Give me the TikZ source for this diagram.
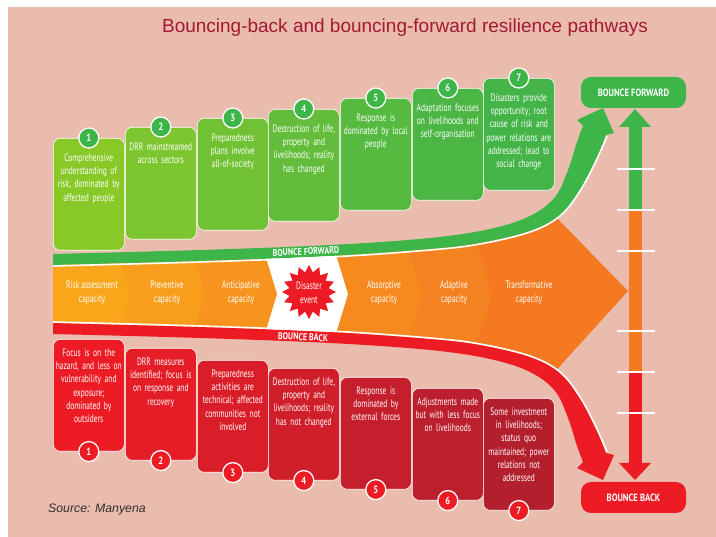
\documentclass[tikz,border=0pt]{standalone}
\usepackage{fontspec}
\setmainfont{Liberation Sans}
\newfontfamily\cond[FakeStretch=0.69]{PT Sans}
\newfontfamily\condb[FakeStretch=0.82]{PT Sans}
\usetikzlibrary{shapes.geometric}
\definecolor{bg}{HTML}{E9BCAE}
\definecolor{titlered}{HTML}{A3192F}
\definecolor{g1}{HTML}{88C928}
\definecolor{g2}{HTML}{7EC62F}
\definecolor{g3}{HTML}{71C135}
\definecolor{g4}{HTML}{63BD3B}
\definecolor{g5}{HTML}{56B940}
\definecolor{g6}{HTML}{4CB644}
\definecolor{g7}{HTML}{44B448}
\definecolor{cg}{HTML}{3DB549}
\definecolor{r1}{HTML}{ED1C24}
\definecolor{r2}{HTML}{E41D27}
\definecolor{r3}{HTML}{DA1E29}
\definecolor{r4}{HTML}{D01F2B}
\definecolor{r5}{HTML}{C51F2D}
\definecolor{r6}{HTML}{BC1F2E}
\definecolor{r7}{HTML}{B41F2E}
\definecolor{cr}{HTML}{ED1C24}
\definecolor{o1}{HTML}{F9A61A}
\definecolor{o2}{HTML}{F89E1C}
\definecolor{o3}{HTML}{F7941D}
\definecolor{o5}{HTML}{F68A1F}
\definecolor{o6}{HTML}{F58220}
\definecolor{o7}{HTML}{F47920}
\definecolor{srcgray}{HTML}{2E2E2E}
\def\swoosh{plot[smooth, tension=0.6] coordinates {(53,254) (200,250) (330,245) (430,238) (490,229) (530,216) (555,197) (568,170) (577,142) (583,126)} -- (577,120) -- (603,108) -- (614,133) -- plot[smooth, tension=0.6] coordinates {(606,135) (596,160) (580,190) (560,215) (530,231) (480,243) (430,249) (330,256) (200,261) (53,265)} -- cycle}
\def\swooshedge{plot[smooth, tension=0.6] coordinates {(53,266) (200,262) (330,257) (430,250) (480,244) (530,232) (560,216) (580,191) (596,161) (607,136)}}
\begin{document}
\begin{tikzpicture}[x=1pt,y=-1pt,
  box/.style={rounded corners=7pt, minimum width=71pt, minimum height=112pt, anchor=north west, inner sep=0pt, draw=white, line width=0.6pt},
  txt/.style={text=white, font=\cond\fontsize{10.8}{13.3}\selectfont, align=center, text width=70pt, inner sep=0pt, anchor=north},
  num/.style={circle, draw=white, line width=1.3pt, minimum size=20pt, inner sep=0pt, text=white, font=\condb\bfseries\fontsize{10.5}{10.5}\selectfont},
  bandtxt/.style={text=white, font=\cond\fontsize{10.8}{14}\selectfont, align=center, inner sep=0pt},
  swtxt/.style={text=white, font=\condb\bfseries\fontsize{9.8}{10}\selectfont, inner sep=0pt},
  endbox/.style={rounded corners=10pt, minimum width=105pt, minimum height=31pt, inner sep=0pt, text=white, font=\condb\bfseries\fontsize{10.5}{11}\selectfont}]
\useasboundingbox (0,0) rectangle (716,537);
\fill[white] (0,0) rectangle (716,537);
\fill[bg] (8,7) rectangle (716,537);
\node[text=titlered, font=\fontsize{19}{22}\selectfont] (title) at (405,28) {Bouncing-back and bouncing-forward resilience pathways};
% green boxes
\node[box, fill=g1] (gb1) at (53,138) {};
\node[box, fill=g2] (gb2) at (125,127) {};
\node[box, fill=g3] (gb3) at (197,118) {};
\node[box, fill=g4] (gb4) at (268,109) {};
\node[box, fill=g5] (gb5) at (340,98) {};
\node[box, fill=g6] (gb6) at (412,88) {};
\node[box, fill=g7] (gb7) at (483,78) {};
\node[txt] (gt1) at ([yshift=-15.5pt]gb1.north) {Comprehensive\\understanding of\\risk; dominated by\\affected people};
\node[txt] (gt2) at ([yshift=-15.5pt]gb2.north) {DRR mainstreamed\\across sectors};
\node[txt] (gt3) at ([yshift=-15.5pt]gb3.north) {Preparedness\\plans involve\\all-of-society};
\node[txt] (gt4) at ([yshift=-15.5pt]gb4.north) {Destruction of life,\\property and\\livelihoods; reality\\has changed};
\node[txt] (gt5) at ([yshift=-15.5pt]gb5.north) {Response is\\dominated by local\\people};
\node[txt] (gt6) at ([yshift=-15.5pt]gb6.north) {Adaptation focuses\\on livelihoods and\\self-organisation};
\node[txt] (gt7) at ([yshift=-15.5pt]gb7.north) {Disasters provide\\opportunity; root\\cause of risk and\\power relations are\\addressed; lead to\\social change};
\node[num, fill=cg] (gc1) at (gb1.north) {1};
\node[num, fill=cg] (gc2) at (gb2.north) {2};
\node[num, fill=cg] (gc3) at (gb3.north) {3};
\node[num, fill=cg] (gc4) at (gb4.north) {4};
\node[num, fill=cg] (gc5) at (gb5.north) {5};
\node[num, fill=cg] (gc6) at (gb6.north) {6};
\node[num, fill=cg] (gc7) at (gb7.north) {7};
% red boxes
\node[box, fill=r1] (rb1) at (53,339) {};
\node[box, fill=r2] (rb2) at (125,348) {};
\node[box, fill=r3] (rb3) at (197,360) {};
\node[box, fill=r4] (rb4) at (268,368) {};
\node[box, fill=r5] (rb5) at (340,377) {};
\node[box, fill=r6] (rb6) at (412,388) {};
\node[box, fill=r7] (rb7) at (483,398) {};
\node[txt] (rt1) at ([yshift=-9.5pt]rb1.north) {Focus is on the\\hazard, and less on\\vulnerability and\\exposure;\\dominated by\\outsiders};
\node[txt] (rt2) at ([yshift=-9.5pt]rb2.north) {DRR measures\\identified; focus is\\on response and\\recovery};
\node[txt] (rt3) at ([yshift=-9.5pt]rb3.north) {Preparedness\\activities are\\technical; affected\\communities not\\involved};
\node[txt] (rt4) at ([yshift=-9.5pt]rb4.north) {Destruction of life,\\property and\\livelihoods; reality\\has not changed};
\node[txt] (rt5) at ([yshift=-9.5pt]rb5.north) {Response is\\dominated by\\external forces};
\node[txt] (rt6) at ([yshift=-9.5pt]rb6.north) {Adjustments made\\but with less focus\\on livelihoods};
\node[txt] (rt7) at ([yshift=-9.5pt]rb7.north) {Some investment\\in livelihoods;\\status quo\\maintained; power\\relations not\\addressed};
\node[num, fill=cr] (rc1) at (rb1.south) {1};
\node[num, fill=cr] (rc2) at (rb2.south) {2};
\node[num, fill=cr] (rc3) at (rb3.south) {3};
\node[num, fill=cr] (rc4) at (rb4.south) {4};
\node[num, fill=cr] (rc5) at (rb5.south) {5};
\node[num, fill=cr] (rc6) at (rb6.south) {6};
\node[num, fill=cr] (rc7) at (rb7.south) {7};
% orange band
\begin{scope}
\clip (53,259.5) -- (330,250.5) -- (430,243.5) -- (490,235) -- (530,223) -- (550,211) -- (628,291) -- (550,377) -- (530,365) -- (490,353) -- (430,344.5) -- (330,337.5) -- (53,328.5) -- cycle;
\fill[o7] (0,150) rectangle (700,450);
\fill[o6] (0,150) -- (448,150) -- (492,294) -- (448,438) -- (0,438) -- cycle;
\fill[o5] (0,150) -- (378,150) -- (422,294) -- (378,438) -- (0,438) -- cycle;
\fill[white] (0,150) -- (304,150) -- (348,294) -- (304,438) -- (0,438) -- cycle;
\fill[o3] (0,150) -- (233,150) -- (277,294) -- (233,438) -- (0,438) -- cycle;
\fill[o2] (0,150) -- (161,150) -- (205,294) -- (161,438) -- (0,438) -- cycle;
\fill[o1] (0,150) -- (86,150) -- (130,294) -- (86,438) -- (0,438) -- cycle;
\end{scope}
\node[bandtxt] (c1) at (92,293) {Risk assessment\\capacity};
\node[bandtxt] (c2) at (167,293) {Preventive\\capacity};
\node[bandtxt] (c3) at (241,293) {Anticipative\\capacity};
\node[star, star points=16, star point ratio=1.35, minimum size=54pt, fill=cr, inner sep=0pt] (star) at (309,292) {};
\node[bandtxt] (dis) at (309,293) {Disaster\\event};
\node[bandtxt] (c5) at (384,293) {Absorptive\\capacity};
\node[bandtxt] (c6) at (454,293) {Adaptive\\capacity};
\node[bandtxt] (c7) at (529,293) {Transformative\\capacity};
% swooshes
\fill[cg] \swoosh;
\draw[white, line width=1.6pt] \swooshedge;
\begin{scope}[cm={1,0,0,-1,(0pt,-588pt)}]
\fill[cr] \swoosh;
\draw[white, line width=1.6pt] \swooshedge;
\end{scope}
\node[swtxt, rotate=2.5] (bfl) at (306,251.5) {BOUNCE FORWARD};
\node[swtxt, rotate=-3] (bbl) at (303,337) {BOUNCE BACK};
% right scale
\node[endbox, fill=cg] (bf) at (633.5,92.5) {BOUNCE FORWARD};
\node[endbox, fill=cr] (bb) at (633.5,497.5) {BOUNCE BACK};
\fill[cg] (628.5,126) rectangle (641.5,210);
\fill[o7] (628.5,210) rectangle (641.5,372);
\fill[cr] (628.5,372) rectangle (641.5,464);
\fill[cg] (619,127) -- (635,109) -- (651,127) -- cycle;
\fill[cr] (619,463) -- (635,480) -- (651,463) -- cycle;
\foreach \yy in {169,210,251,331,372,413} \draw[white, line width=1.5pt] (617,\yy) -- (655,\yy);
\node[text=srcgray, font=\itshape\fontsize{12.3}{14}\selectfont, anchor=west, inner sep=0pt] (src) at (48,509) {Source: Manyena};
\end{tikzpicture}
\end{document}
